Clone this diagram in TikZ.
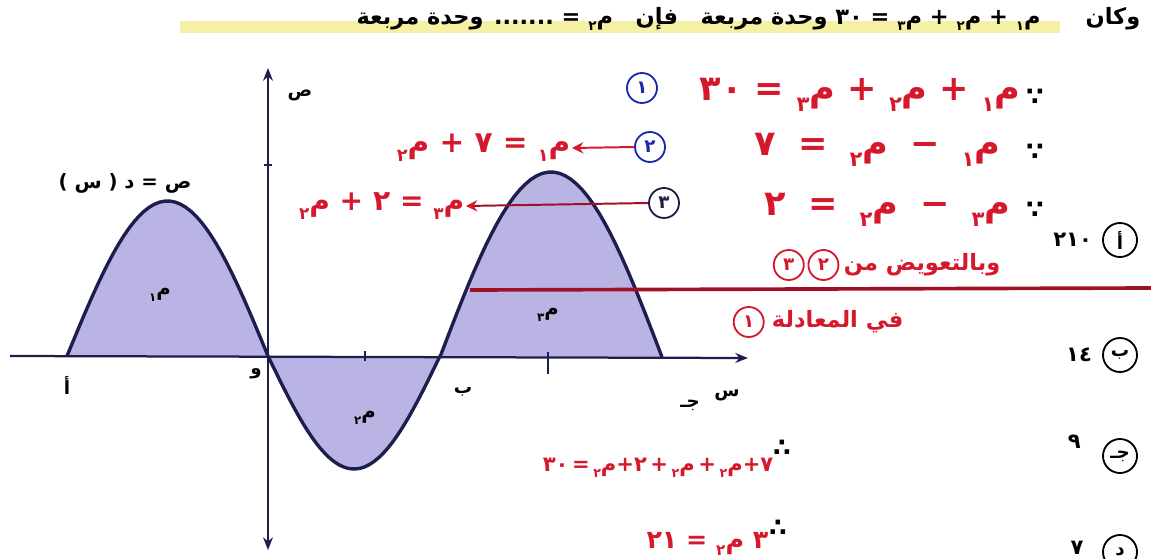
\documentclass[tikz,border=0pt]{standalone}
\usepackage{fontspec}
\setmainfont{DejaVu Sans}
\newfontfamily\arabicfont[Script=Arabic]{DejaVu Sans}
\TeXXeTstate=1
\usetikzlibrary{arrows.meta,positioning,calc}
\definecolor{hump}{RGB}{186,180,228}
\definecolor{curve}{RGB}{28,30,78}
\definecolor{pen}{RGB}{214,24,44}
\definecolor{penblue}{RGB}{30,40,170}
\definecolor{rule}{RGB}{160,16,36}
\definecolor{marker}{RGB}{246,240,165}
\makeatletter
\newcommand{\mm}[1]{م\lower0.55ex\hbox{\@tempdima=\f@size pt\@tempdima=0.6\@tempdima
  \fontsize{\strip@pt\@tempdima}{0}\selectfont #1}}
\makeatother
\newcommand{\nm}[1]{\beginL#1\endL}
\newcommand{\ar}[1]{\arabicfont\beginR #1\endR}

\begin{document}
\begin{tikzpicture}[
  x=0.025cm, y=-0.025cm,
  axis/.style={draw=curve, line width=1.6pt},
  print/.style={font=\arabicfont\bfseries\fontsize{#1}{#1}\selectfont, inner sep=1pt},
  print/.default=13,
  hand/.style={text=pen, font=\arabicfont\bfseries\fontsize{#1}{#1}\selectfont, inner sep=1pt},
  hand/.default=20,
  dots/.style={font=\bfseries\fontsize{18}{20}\selectfont, inner sep=0pt},
  cnum/.style={circle, draw, line width=1.3pt, minimum size=0.75cm, inner sep=0pt,
               font=\arabicfont\bfseries\fontsize{13}{13}\selectfont},
  opt/.style={circle, draw=black, line width=1.3pt, minimum size=0.85cm, inner sep=0pt,
              font=\arabicfont\bfseries\fontsize{13}{13}\selectfont},
  penarrow/.style={-{Stealth[length=8pt,width=8pt]}, line width=1.4pt}
]
\useasboundingbox (0,0) rectangle (1151,559);
\fill[white] (0,0) rectangle (1151,559);

% question line
\fill[marker] (180,21) rectangle (1060,33);
\node[print=16, anchor=east] (question) at (1142,19)
  {\ar{وكان\qquad \mm{١} + \mm{٢} + \mm{٣} = \nm{٣٠} وحدة مربعة\quad فإن\quad \mm{٢} = ....... وحدة مربعة}};

% areas
\fill[hump] (67,356) -- plot[domain=67:268, samples=40] (\x,{356-155*sin((\x-67)/201*180)}) -- cycle;
\fill[hump] (268,356) -- plot[domain=268:440, samples=40] (\x,{356+113*sin((\x-268)/172*180)}) -- cycle;
\fill[hump] (440,357) -- plot[domain=440:662, samples=40] (\x,{357-185*sin((\x-440)/222*180)}) -- cycle;

% axes
\coordinate (xl) at (10,356);
\coordinate (xr) at (748,358);
\coordinate (yb) at (268,550);
\coordinate (yt) at (268,68);
\draw[axis, -{Stealth[length=9pt,width=7pt]}] (xl) -- (xr);
\draw[axis, {Stealth[length=9pt,width=7pt]}-{Stealth[length=9pt,width=7pt]}] (yb) -- (yt);
\draw[axis, line width=1pt] (365,351) -- (365,361);
\draw[axis, line width=1pt] (548,352) -- (548,374);
\draw[axis, line width=1pt] (264,165) -- (272,165);

% curve
\draw[curve, line width=2.4pt, line join=round]
  plot[domain=67:268, samples=40] (\x,{356-155*sin((\x-67)/201*180)})
  -- plot[domain=268:440, samples=40] (\x,{356+113*sin((\x-268)/172*180)})
  -- plot[domain=440:662, samples=40] (\x,{357-185*sin((\x-440)/222*180)});

% labels of the graph
\node[print=14] (fx) at (125,183) {\ar{ص = د ( س )}};
\node[print] (ylab) at (300,95) {\ar{ص}};
\node[print] (xlab) at (727,395) {\ar{س}};
\node[print] (ptA) at (67,385) {\ar{أ}};
\node[print] (ptO) at (256,374) {\ar{و}};
\node[print] (ptB) at (463,392) {\ar{ب}};
\node[print] (ptC) at (690,405) {\ar{جـ}};
\node[print=14] (m1) at (160,295) {\ar{\mm{١}}};
\node[print=14] (m2) at (365,418) {\ar{\mm{٢}}};
\node[print=14] (m3) at (548,315) {\ar{\mm{٣}}};

% equations on the right
\node[dots] (th1) at (1035,97) {∵};
\node[dots] (th2) at (1035,152) {∵};
\node[dots] (th3) at (1035,210) {∵};
\node[hand=25, anchor=east] (eq1) at (1022,95) {\ar{\mm{١} + \mm{٢} + \mm{٣} = \nm{٣٠}}};
\node[hand=25, anchor=east] (eq2) at (1002,150) {\ar{\mm{١}\; − \;\mm{٢}\; = \;٧}};
\node[hand=25, anchor=east] (eq3) at (1012,210) {\ar{\mm{٣}\; − \;\mm{٢}\; = \;٢}};
\node[cnum, draw=penblue, text=penblue] (c1) at (642,88) {\ar{١}};
\node[cnum, draw=penblue, text=penblue] (c2) at (650,147) {\ar{٢}};
\node[cnum, draw=curve, text=curve] (c3) at (664,203) {\ar{٣}};
\node[hand=21, anchor=east] (eqa) at (572,148) {\ar{\mm{١} = ٧ + \mm{٢}}};
\node[hand=20, anchor=east] (eqb) at (466,206) {\ar{\mm{٣} = ٢ + \mm{٢}}};
\draw[penarrow, pen] (c2.west) -- (eqa.east);
\draw[penarrow, draw=rule, -{Stealth[length=8pt,width=8pt,color=pen]}] (c3.west) -- (eqb.east);

% substitution
\node[hand=16, anchor=east] (subst) at (1002,265) {\ar{وبالتعويض من}};
\node[cnum, draw=pen, text=pen, left=2pt of subst] (s2) {\ar{٢}};
\node[cnum, draw=pen, text=pen, left=2pt of s2] (s3) {\ar{٣}};
\coordinate (rl) at (470,290);
\coordinate (rr) at (1151,288);
\draw[draw=rule, line width=2.6pt] (rl) -- (rr);
\node[hand=16, anchor=east] (ineq) at (905,322) {\ar{في المعادلة}};
\node[cnum, draw=pen, text=pen, left=4pt of ineq] (s1) {\ar{١}};

\node[dots] (th4) at (782,448) {∴};
\node[hand=15, anchor=east] (eq4) at (775,468) {\ar{٧+\mm{٢}\,+\,\mm{٢}\,+\,٢+\mm{٢}\,=\,\nm{٣٠}}};
\node[dots] (th5) at (778,528) {∴};
\node[hand=18, anchor=east] (eq5) at (770,544) {\ar{٣ \mm{٢} = \nm{٢١}}};

% choices
\node[opt] (oA) at (1120,240) {\ar{أ}};
\node[opt] (oB) at (1120,355) {\ar{ب}};
\node[opt] (oC) at (1120,456) {\ar{جـ}};
\node[opt] (oD) at (1120,552) {\ar{د}};
\node[print=15, left=6pt of oA] (vA) {\ar{\nm{٢١٠}}};
\node[print=15, left=6pt of oB] (vB) {\ar{\nm{١٤}}};
\node[print=15, left=14pt of oC, yshift=10pt] (vC) {\ar{٩}};
\node[print=15, left=12pt of oD, yshift=3pt] (vD) {\ar{٧}};
\end{tikzpicture}
\end{document}
